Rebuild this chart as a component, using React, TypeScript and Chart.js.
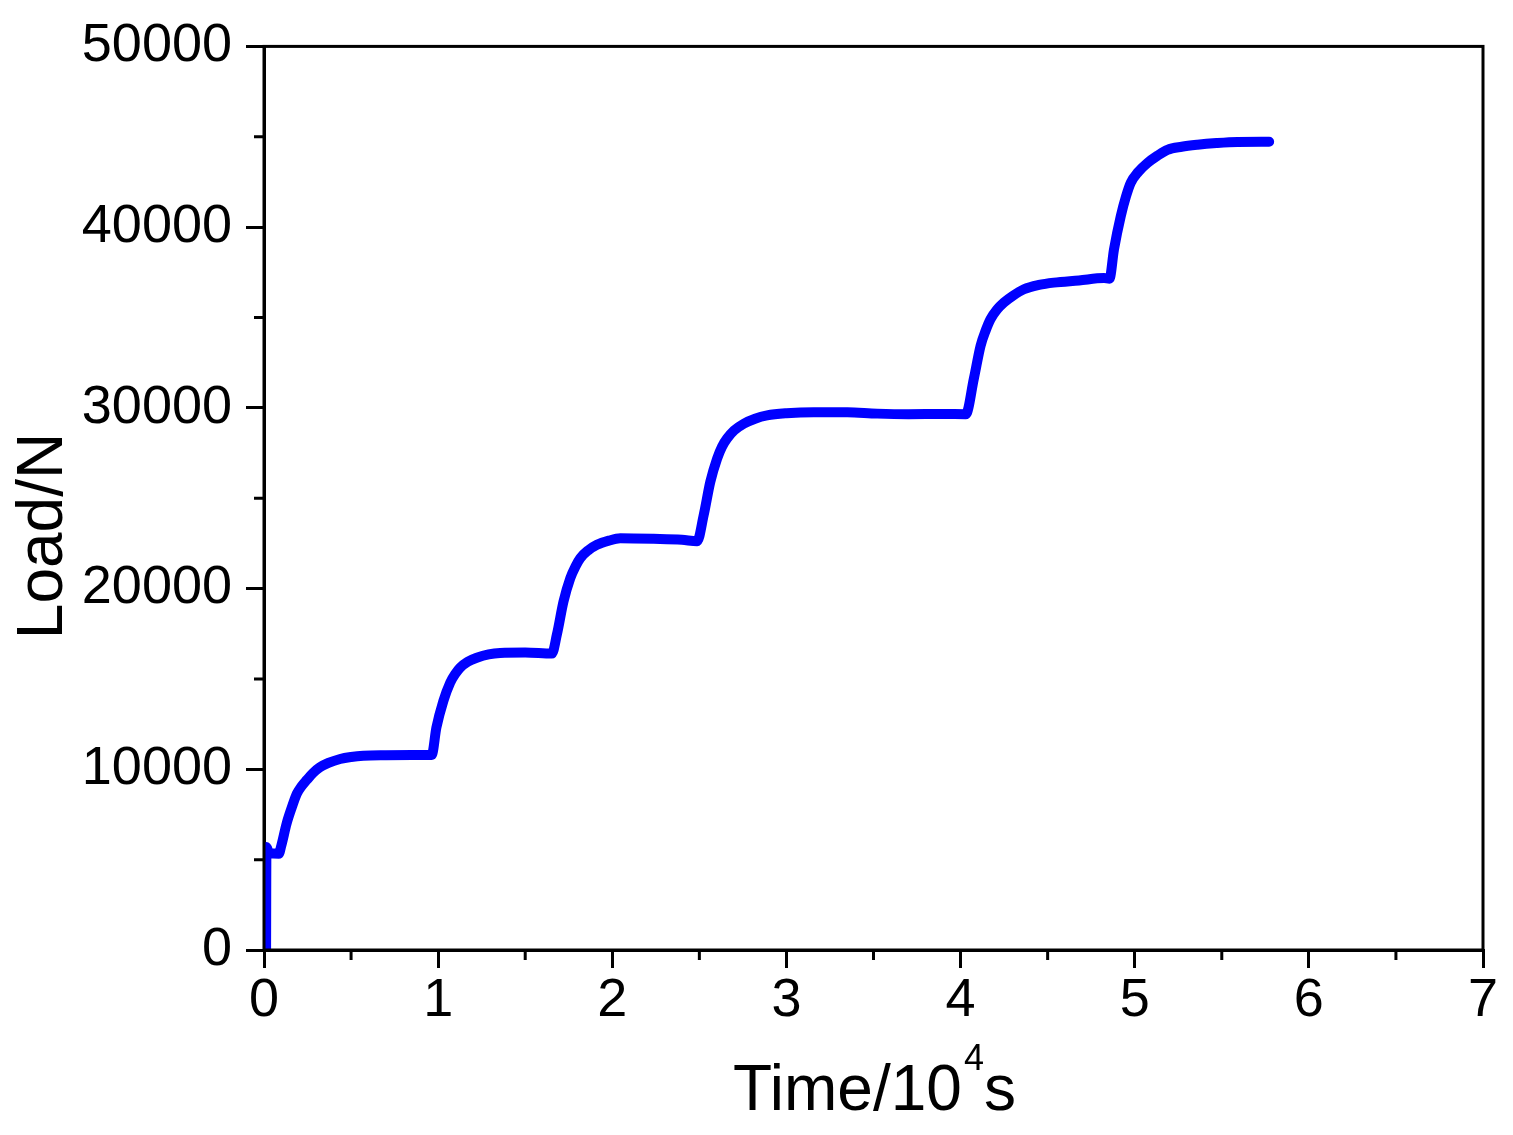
import React, { useEffect, useRef } from "react";
import { Chart, registerables } from "chart.js";

Chart.register(...registerables);

// Time in 10^4 s
const timeValues: number[] = [
  0.012, 0.014, 0.03, 0.085, 0.1, 0.13, 0.16, 0.188, 0.215, 0.245, 0.28, 0.32, 0.37, 0.437, 0.5, 0.57, 0.7, 0.85, 0.963,
  0.99, 1.03, 1.069, 1.1, 1.126, 1.17, 1.222, 1.29, 1.356, 1.5, 1.653,
  1.682, 1.72, 1.759, 1.79, 1.816, 1.86, 1.912, 1.98, 2.046, 2.237, 2.4, 2.487,
  2.525, 2.563, 2.602, 2.63, 2.659, 2.7, 2.755, 2.82, 2.889, 3.0, 3.157, 3.35, 3.521, 3.7, 3.9, 4.03,
  4.076, 4.115, 4.145, 4.172, 4.21, 4.249, 4.3, 4.364, 4.45, 4.536, 4.68, 4.824, 4.855,
  4.881, 4.92, 4.95, 4.977, 5.02, 5.073, 5.13, 5.188, 5.27, 5.36, 5.47, 5.59, 5.772,
];
// Load in N
const loadValues: number[] = [
  0, 5700, 5350, 5330, 5800, 7000, 7900, 8640, 9050, 9400, 9780, 10100, 10350, 10570, 10680, 10750, 10780, 10790, 10790,
  12310, 13780, 14790, 15300, 15620, 15950, 16170, 16360, 16440, 16460, 16400,
  17460, 19290, 20580, 21250, 21680, 22100, 22420, 22650, 22780, 22750, 22700, 22620,
  24070, 25910, 27190, 27850, 28300, 28750, 29120, 29400, 29580, 29700, 29760, 29750, 29680, 29650, 29660, 29650,
  31600, 33440, 34300, 34910, 35450, 35830, 36200, 36560, 36800, 36930, 37050, 37180, 37150,
  38770, 40610, 41700, 42450, 43050, 43550, 43950, 44280, 44450, 44560, 44650, 44710, 44720,
];

const xTicks: number[] = [0, 1, 2, 3, 4, 5, 6, 7];
const yTicks: number[] = [0, 10000, 20000, 30000, 40000, 50000];
const xMinorTicks: number[] = [0.5, 1.5, 2.5, 3.5, 4.5, 5.5, 6.5];
const yMinorTicks: number[] = [5000, 15000, 25000, 35000, 45000];

const xTitleMain = "Time/10";
const xTitleSup = "4";
const xTitleEnd = "s";
const yTitle = "Load/N";

const FONT = "'Liberation Sans', Arial, sans-serif";

const decorPlugin = {
  id: "decor",
  afterDraw(chart: any) {
    const { ctx, chartArea, scales } = chart;
    const xs = scales.x;
    const ys = scales.y;
    ctx.save();
    ctx.strokeStyle = "#000";
    ctx.lineWidth = 3;
    ctx.lineCap = "butt";
    // frame
    ctx.strokeRect(chartArea.left, chartArea.top, chartArea.right - chartArea.left, chartArea.bottom - chartArea.top);
    // minor ticks
    ctx.beginPath();
    for (const v of xMinorTicks) {
      const px = xs.getPixelForValue(v);
      ctx.moveTo(px, chartArea.bottom);
      ctx.lineTo(px, chartArea.bottom + 10);
    }
    for (const v of yMinorTicks) {
      const py = ys.getPixelForValue(v);
      ctx.moveTo(chartArea.left, py);
      ctx.lineTo(chartArea.left - 10, py);
    }
    ctx.stroke();
    // x title
    ctx.fillStyle = "#000";
    ctx.textBaseline = "alphabetic";
    ctx.textAlign = "left";
    ctx.font = `64px ${FONT}`;
    const mainW = ctx.measureText(xTitleMain).width;
    ctx.font = `36px ${FONT}`;
    const supW = ctx.measureText(xTitleSup).width;
    ctx.font = `64px ${FONT}`;
    const endW = ctx.measureText(xTitleEnd).width;
    const total = mainW + supW + endW;
    const cx = (chartArea.left + chartArea.right) / 2;
    const x0 = cx - total / 2;
    const baseY = 1110;
    ctx.fillText(xTitleMain, x0, baseY);
    ctx.font = `36px ${FONT}`;
    ctx.fillText(xTitleSup, x0 + mainW + 2, baseY - 40);
    ctx.font = `64px ${FONT}`;
    ctx.fillText(xTitleEnd, x0 + mainW + supW + 2, baseY);
    // y title
    ctx.translate(62, 536);
    ctx.rotate(-Math.PI / 2);
    ctx.textAlign = "center";
    ctx.fillText(yTitle, 0, 0);
    ctx.restore();
  },
};

export default function App() {
  const ref = useRef<HTMLCanvasElement | null>(null);
  useEffect(() => {
    if (!ref.current) return;
    const points = timeValues.map((t, i) => ({ x: t, y: loadValues[i] }));
    const chart = new Chart(ref.current, {
      type: "line",
      data: {
        datasets: [
          {
            data: points,
            borderColor: "#0000FF",
            borderWidth: 10,
            borderCapStyle: "round",
            borderJoinStyle: "round",
            pointRadius: 0,
            cubicInterpolationMode: "monotone",
            fill: false,
          },
        ],
      },
      plugins: [decorPlugin],
      options: {
        animation: false,
        responsive: true,
        maintainAspectRatio: false,
        layout: { padding: { left: 0, top: 42, right: 30, bottom: 0 } },
        plugins: { legend: { display: false }, tooltip: { enabled: false } },
        scales: {
          x: {
            type: "linear",
            min: 0,
            max: 7,
            afterBuildTicks: (scale: any) => {
              scale.ticks = xTicks.map((v) => ({ value: v }));
            },
            afterFit: (scale: any) => {
              scale.height = 185;
            },
            ticks: {
              color: "#000",
              font: { family: FONT, size: 54 },
              padding: 1,
              maxRotation: 0,
              callback: (v: any) => String(v),
            },
            grid: { drawOnChartArea: false, drawTicks: true, tickLength: 18, color: "#000", lineWidth: 3 },
            border: { display: true, color: "#000", width: 3 },
          },
          y: {
            type: "linear",
            min: 0,
            max: 50000,
            afterBuildTicks: (scale: any) => {
              scale.ticks = yTicks.map((v) => ({ value: v }));
            },
            afterFit: (scale: any) => {
              scale.width = 264;
            },
            ticks: {
              color: "#000",
              font: { family: FONT, size: 54 },
              padding: 14,
              callback: (v: any) => String(v),
            },
            grid: { drawOnChartArea: false, drawTicks: true, tickLength: 18, color: "#000", lineWidth: 3 },
            border: { display: true, color: "#000", width: 3 },
          },
        },
      },
    });
    return () => chart.destroy();
  }, []);
  return (
    <div style={{ position: "fixed", left: 0, top: 0, width: 1513, height: 1135, background: "#fff" }}>
      <canvas ref={ref} />
    </div>
  );
}
